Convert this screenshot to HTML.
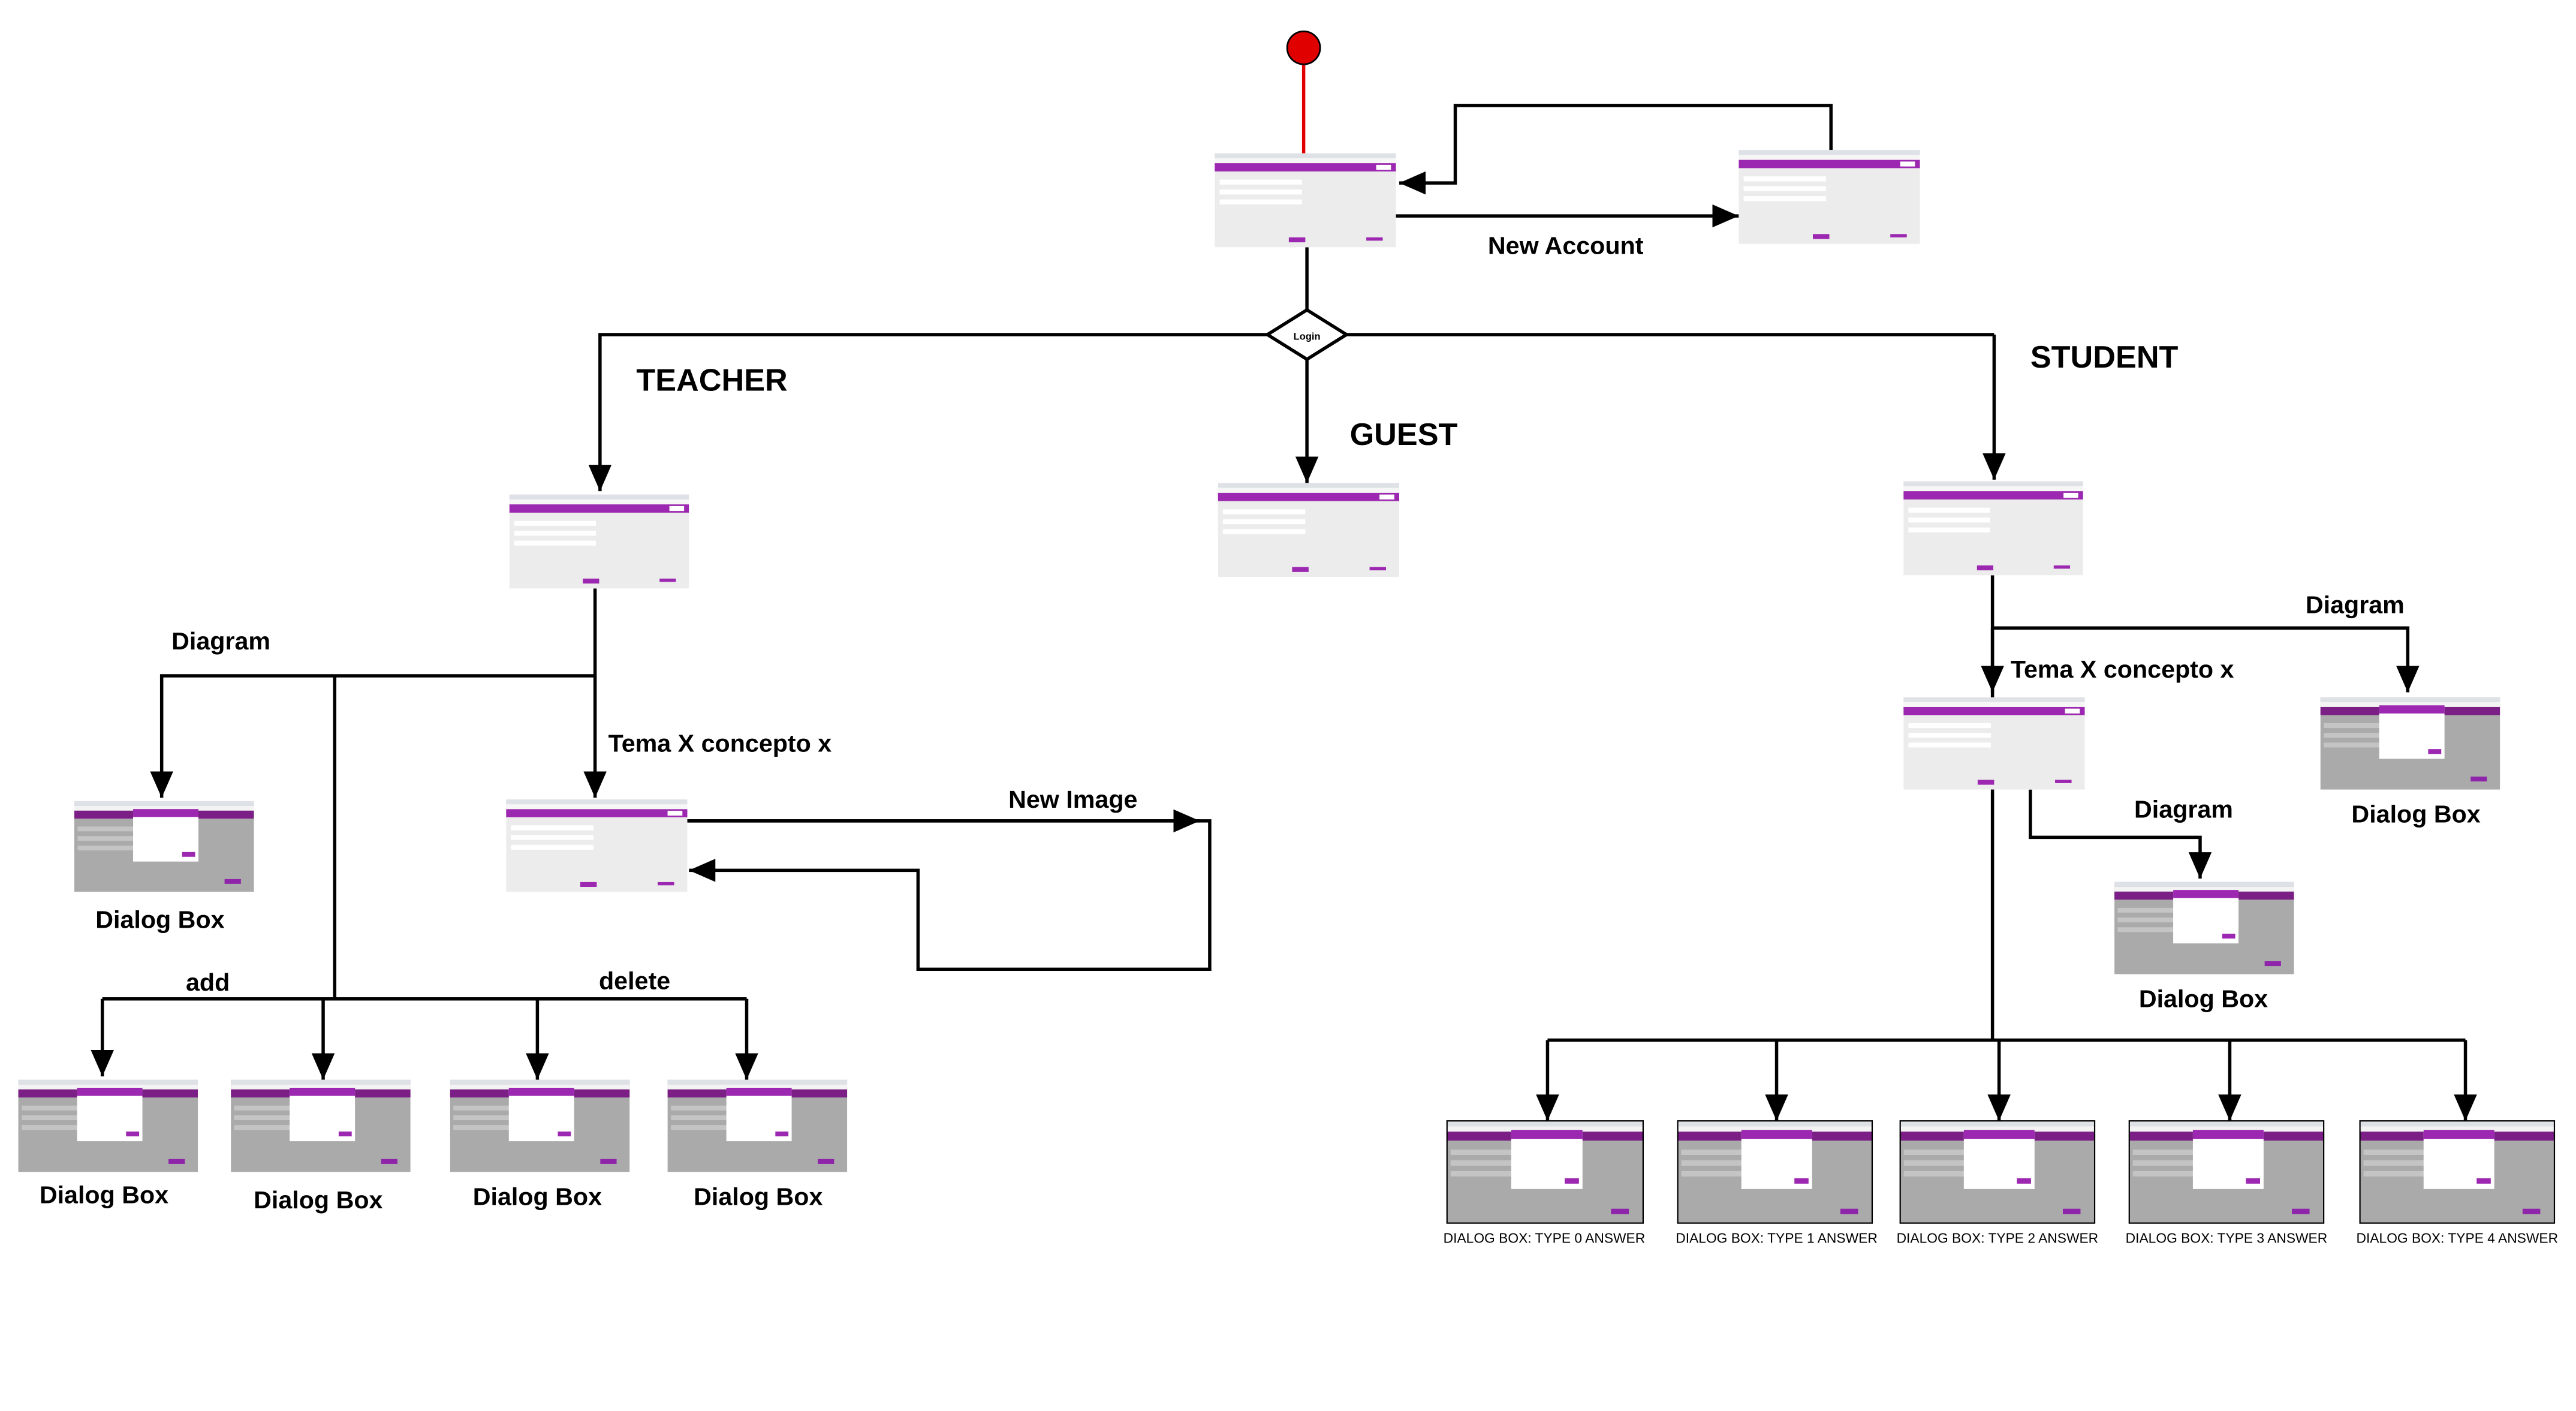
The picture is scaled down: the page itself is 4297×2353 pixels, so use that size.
<!DOCTYPE html>
<html><head><meta charset="utf-8"><style>
html,body{margin:0;padding:0;background:#fff;}
svg{display:block;}
.l{font-family:"Liberation Sans",sans-serif;font-weight:bold;font-size:15px;fill:#000;}
.b{font-family:"Liberation Sans",sans-serif;font-weight:bold;font-size:19px;fill:#000;}
.s{font-family:"Liberation Sans",sans-serif;font-size:8.3px;fill:#000;}
</style></head><body>
<svg width="4297" height="2353" viewBox="0 0 1563 856" xmlns="http://www.w3.org/2000/svg">
<defs>
<marker id="A" viewBox="0 0 10 10" refX="10" refY="5" markerWidth="16" markerHeight="14" orient="auto" markerUnits="userSpaceOnUse" preserveAspectRatio="none">
<path d="M0,0 L10,5 L0,10 z" fill="#000"/></marker>
<symbol id="light" viewBox="0 0 110 57" preserveAspectRatio="none">
<rect width="110" height="57" fill="#ececec"/>
<rect width="110" height="3" fill="#dee1e6"/>
<rect y="3" width="110" height="3" fill="#f6f6f6"/>
<rect y="6" width="110" height="5" fill="#9c27b0"/>
<rect x="98" y="7" width="9" height="3" fill="#fff"/>
<rect x="3" y="16" width="50" height="3" fill="#fff"/>
<rect x="3" y="22" width="50" height="3" fill="#fff"/>
<rect x="3" y="28" width="50" height="3" fill="#fff"/>
<rect x="45" y="51" width="10" height="3" fill="#9c27b0"/>
<rect x="92" y="51" width="10" height="2" fill="#9c27b0"/>
</symbol>
<symbol id="dlg" viewBox="0 0 110 57" preserveAspectRatio="none">
<rect width="110" height="57" fill="#aaa"/>
<rect width="110" height="3" fill="#dee1e6"/>
<rect y="3" width="110" height="3" fill="#f3f3f3"/>
<rect y="6" width="110" height="5" fill="#7b1f86"/>
<rect x="2" y="16" width="45" height="3" fill="#c4c4c4"/>
<rect x="2" y="22" width="45" height="3" fill="#c4c4c4"/>
<rect x="2" y="28" width="45" height="3" fill="#c4c4c4"/>
<rect x="36" y="5" width="40" height="33" fill="#fff"/>
<rect x="36" y="5" width="40" height="5" fill="#9c27b0"/>
<rect x="66" y="32" width="8" height="3" fill="#9c27b0"/>
<rect x="92" y="49" width="10" height="3" fill="#8e24aa"/>
</symbol>
</defs>
<g stroke="#000" stroke-width="2" fill="none">
<line x1="791" y1="38" x2="791" y2="93" stroke="#e00000"/>
<polyline points="1111,91 1111,64 883,64 883,111 849,111" marker-end="url(#A)"/>
<line x1="847" y1="131" x2="1055" y2="131" marker-end="url(#A)"/>
<line x1="793" y1="150" x2="793" y2="188"/>
<polyline points="769,203 364,203 364,298" marker-end="url(#A)"/>
<line x1="817" y1="203" x2="1210" y2="203"/>
<line x1="1210" y1="203" x2="1210" y2="291" marker-end="url(#A)"/>
<line x1="793" y1="218" x2="793" y2="293" marker-end="url(#A)"/>
<line x1="361" y1="357" x2="361" y2="484" marker-end="url(#A)"/>
<polyline points="361,410 98,410 98,484" marker-end="url(#A)"/>
<line x1="203" y1="410" x2="203" y2="606"/>
<line x1="62" y1="606" x2="453" y2="606"/>
<line x1="62" y1="606" x2="62" y2="653" marker-end="url(#A)"/>
<line x1="196" y1="606" x2="196" y2="655" marker-end="url(#A)"/>
<line x1="326" y1="606" x2="326" y2="655" marker-end="url(#A)"/>
<line x1="453" y1="606" x2="453" y2="655" marker-end="url(#A)"/>
<polyline points="417,498 734,498 734,588 557,588 557,528 418,528" marker-end="url(#A)"/>
<line x1="417" y1="498" x2="728" y2="498" marker-end="url(#A)"/>
<line x1="1209" y1="349" x2="1209" y2="631"/>
<line x1="1209" y1="381" x2="1209" y2="420" marker-end="url(#A)"/>
<polyline points="1209,381 1461,381 1461,420" marker-end="url(#A)"/>
<polyline points="1232,479 1232,508 1335,508 1335,533" marker-end="url(#A)"/>
<line x1="939" y1="631" x2="1496" y2="631"/>
<line x1="939" y1="631" x2="939" y2="680" marker-end="url(#A)"/>
<line x1="1078" y1="631" x2="1078" y2="680" marker-end="url(#A)"/>
<line x1="1213" y1="631" x2="1213" y2="680" marker-end="url(#A)"/>
<line x1="1353" y1="631" x2="1353" y2="680" marker-end="url(#A)"/>
<line x1="1496" y1="631" x2="1496" y2="680" marker-end="url(#A)"/>
</g>
<circle cx="791" cy="29" r="10" fill="#e00000" stroke="#000" stroke-width="1"/>
<polygon points="793,188 817,203 793,218 769,203" fill="#fff" stroke="#000" stroke-width="2"/>
<text x="793" y="206" text-anchor="middle" style="font-family:'Liberation Sans',sans-serif;font-size:6px;font-weight:bold">Login</text>
<use href="#light" x="737" y="93" width="110" height="57"/>
<use href="#light" x="1055" y="91" width="110" height="57"/>
<use href="#light" x="309" y="300" width="109" height="57"/>
<use href="#light" x="739" y="293" width="110" height="57"/>
<use href="#light" x="1155" y="292" width="109" height="57"/>
<use href="#light" x="307" y="485" width="110" height="56"/>
<use href="#light" x="1155" y="423" width="110" height="56"/>
<use href="#dlg" x="45" y="486" width="109" height="55"/>
<use href="#dlg" x="1408" y="423" width="109" height="56"/>
<use href="#dlg" x="1283" y="535" width="109" height="56"/>
<use href="#dlg" x="11" y="655" width="109" height="56"/>
<use href="#dlg" x="140" y="655" width="109" height="56"/>
<use href="#dlg" x="273" y="655" width="109" height="56"/>
<use href="#dlg" x="405" y="655" width="109" height="56"/>
<use href="#dlg" x="878" y="680" width="119" height="62"/>
<use href="#dlg" x="1018" y="680" width="118" height="62"/>
<use href="#dlg" x="1153" y="680" width="118" height="62"/>
<use href="#dlg" x="1292" y="680" width="118" height="62"/>
<use href="#dlg" x="1432" y="680" width="118" height="62"/>
<g fill="none" stroke="#000" stroke-width="0.8">
<rect x="878" y="680" width="119" height="62"/><rect x="1018" y="680" width="118" height="62"/>
<rect x="1153" y="680" width="118" height="62"/><rect x="1292" y="680" width="118" height="62"/>
<rect x="1432" y="680" width="118" height="62"/>
</g>
<text class="l" x="950" y="154" text-anchor="middle">New Account</text>
<text class="b" x="386" y="237">TEACHER</text>
<text class="b" x="819" y="270">GUEST</text>
<text class="b" x="1232" y="223">STUDENT</text>
<text class="l" x="134" y="394" text-anchor="middle">Diagram</text>
<text class="l" x="369" y="456">Tema X concepto x</text>
<text class="l" x="651" y="490" text-anchor="middle">New Image</text>
<text class="l" x="97" y="563" text-anchor="middle">Dialog Box</text>
<text class="l" x="126" y="601" text-anchor="middle">add</text>
<text class="l" x="385" y="600" text-anchor="middle">delete</text>
<text class="l" x="63" y="730" text-anchor="middle">Dialog Box</text>
<text class="l" x="193" y="733" text-anchor="middle">Dialog Box</text>
<text class="l" x="326" y="731" text-anchor="middle">Dialog Box</text>
<text class="l" x="460" y="731" text-anchor="middle">Dialog Box</text>
<text class="l" x="1429" y="372" text-anchor="middle">Diagram</text>
<text class="l" x="1220" y="411">Tema X concepto x</text>
<text class="l" x="1466" y="499" text-anchor="middle">Dialog Box</text>
<text class="l" x="1325" y="496" text-anchor="middle">Diagram</text>
<text class="l" x="1337" y="611" text-anchor="middle">Dialog Box</text>
<text class="s" x="937" y="754" text-anchor="middle">DIALOG BOX: TYPE 0 ANSWER</text>
<text class="s" x="1078" y="754" text-anchor="middle">DIALOG BOX: TYPE 1 ANSWER</text>
<text class="s" x="1212" y="754" text-anchor="middle">DIALOG BOX: TYPE 2 ANSWER</text>
<text class="s" x="1351" y="754" text-anchor="middle">DIALOG BOX: TYPE 3 ANSWER</text>
<text class="s" x="1491" y="754" text-anchor="middle">DIALOG BOX: TYPE 4 ANSWER</text>
</svg>
</body></html>
